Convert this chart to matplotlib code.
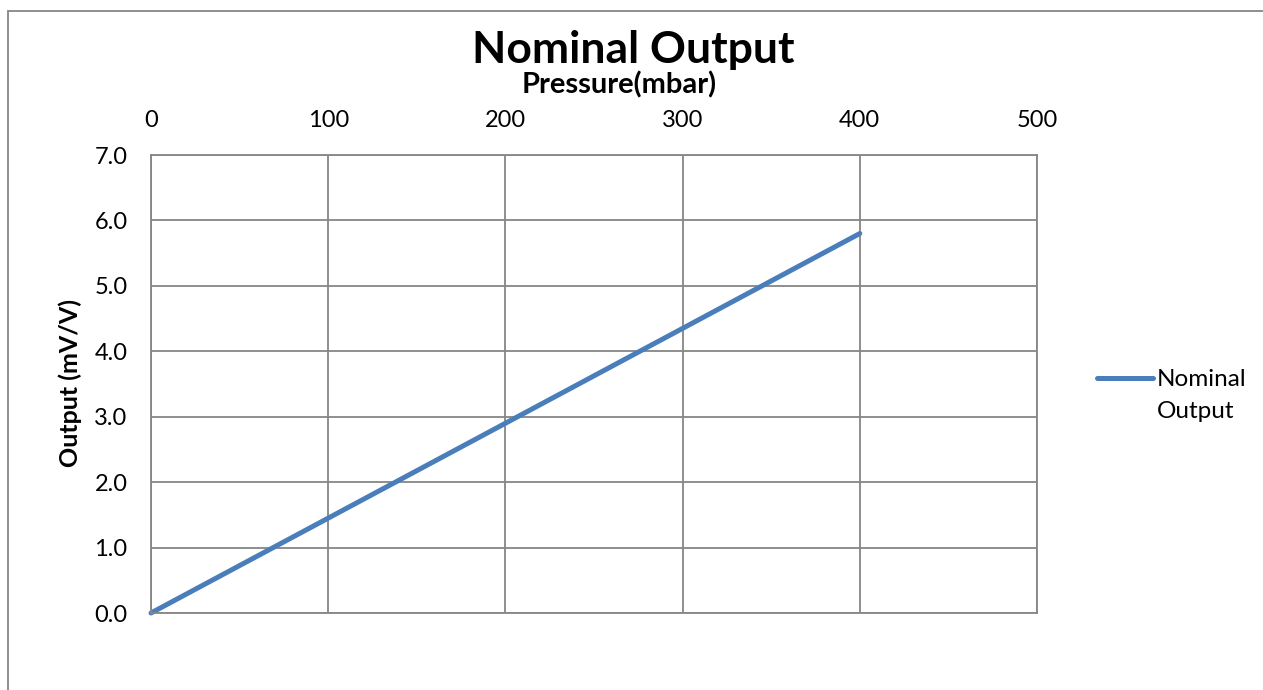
import matplotlib
matplotlib.use("Agg")
import matplotlib.pyplot as plt
from matplotlib.patches import Rectangle
from matplotlib.lines import Line2D

pressure = [0, 100, 200, 300, 400]
output = [0.0, 1.45, 2.9, 4.35, 5.8]
x_ticks = [0, 100, 200, 300, 400, 500]
y_ticks = [0.0, 1.0, 2.0, 3.0, 4.0, 5.0, 6.0, 7.0]

W, H = 1263, 690
plt.rcParams['font.family'] = ['Lato', 'DejaVu Sans']

fig = plt.figure(figsize=(W / 100, H / 100), dpi=100)
ax = fig.add_axes([151 / W, 1 - 613 / H, 886 / W, 458 / H])

grey = '#868686'
line, = ax.plot(pressure, output, color='#4A7EBB', lw=3.6, solid_capstyle='round',
                clip_on=False)

ax.set_xlim(0, 500)
ax.set_ylim(0, 7)
ax.set_xticks(x_ticks)
ax.set_yticks(y_ticks)
ax.set_yticklabels([f'{v:.1f}' for v in y_ticks])
ax.xaxis.tick_top()
ax.tick_params(axis='x', length=0, pad=17, labelsize=17)
ax.tick_params(axis='y', length=0, pad=17, labelsize=17)
ax.grid(True, color=grey, lw=1.3)
ax.set_axisbelow(True)
for s in ax.spines.values():
    s.set_color(grey)
    s.set_linewidth(1.3)

fig.text(633 / W, 1 - 50 / H, 'Nominal Output', ha='center', va='center',
         fontsize=32, fontweight='bold')
fig.text(619 / W, 1 - 85 / H, 'Pressure(mbar)', ha='center', va='center',
         fontsize=21, fontweight='bold')
fig.text(70 / W, 1 - 383 / H, 'Output (mV/V)', ha='center', va='center',
         rotation=90, fontsize=18, fontweight='bold')

blank = Line2D([], [], color='none')
fig.legend(handles=[line, blank], labels=['Nominal', 'Output'], loc='upper left',
           bbox_to_anchor=(1097 / W, 1 - 369 / H), frameon=False, fontsize=17.5,
           borderpad=0, borderaxespad=0,
           handlelength=2.3, handletextpad=0.15, labelspacing=0.45)

fig.add_artist(Rectangle((8 / W, -0.1), 1.2, 1 - 11 / H + 0.1, transform=fig.transFigure,
                         fill=False, edgecolor=grey, lw=1.3))

fig.savefig('out.png', dpi=100)
